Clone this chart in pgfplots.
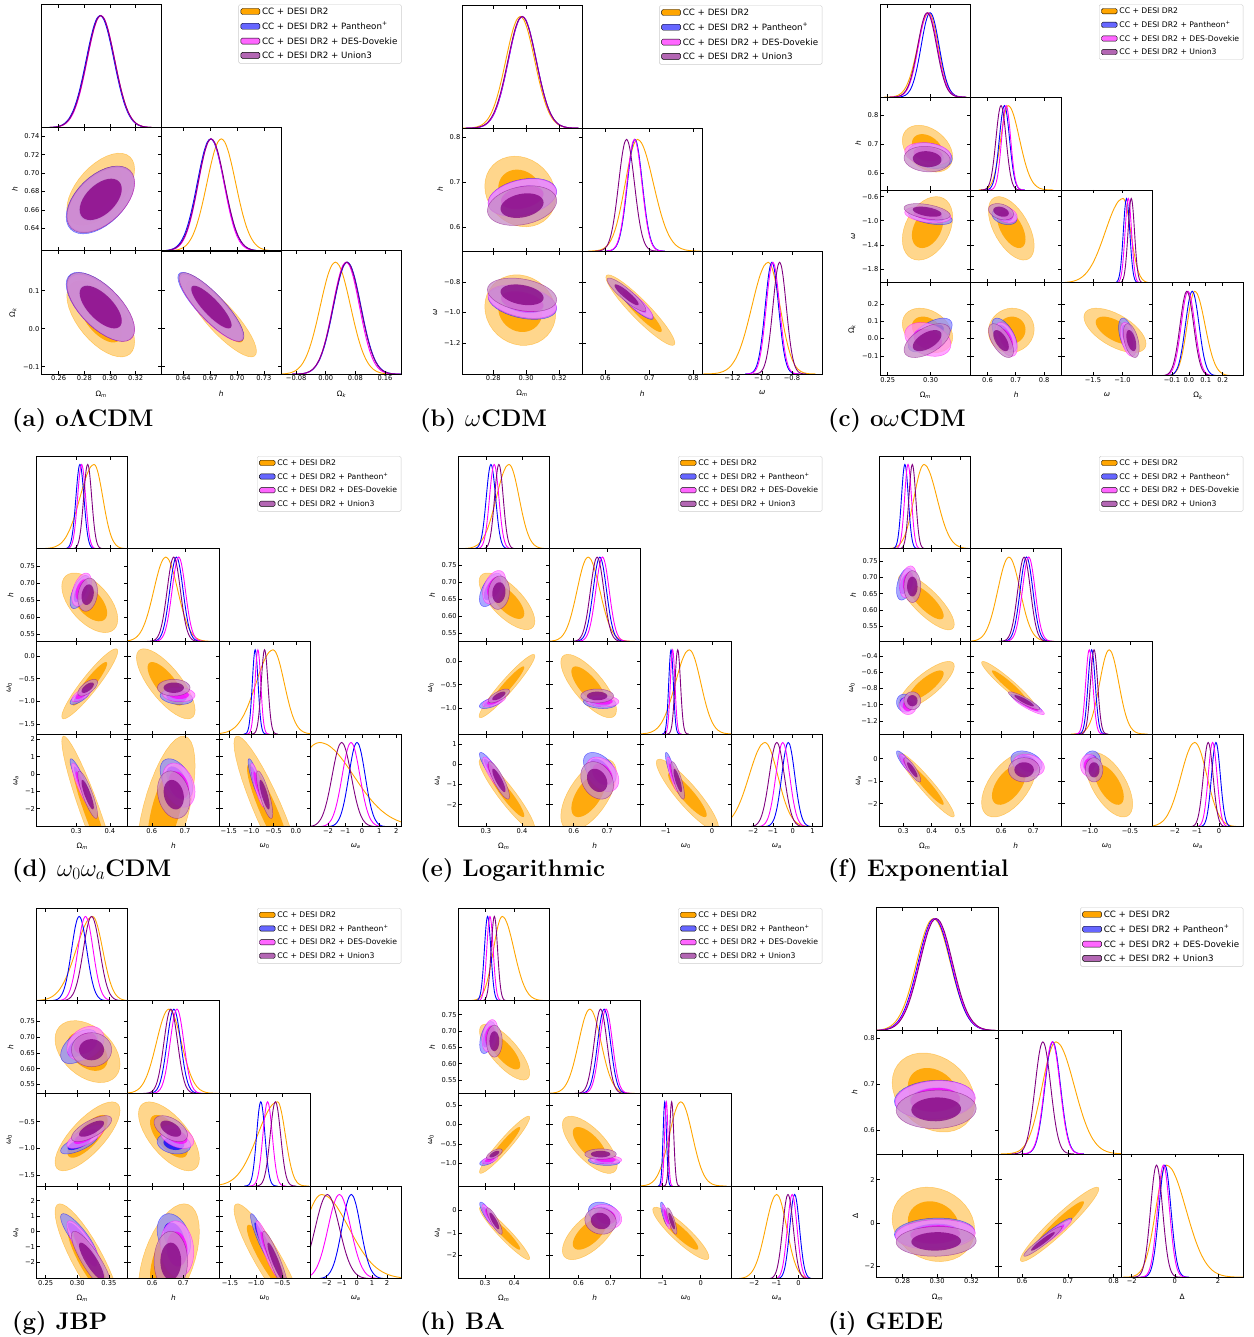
\documentclass[border=0pt]{standalone}
\usepackage{fontspec}
\usepackage{pgfplots}
\pgfplotsset{compat=1.18}
\usepackage{pgfplotstable}
\usepackage{etoolbox}
\newfontfamily\dv{DejaVu Sans}
\definecolor{cO}{RGB}{255,165,0}
\definecolor{cB}{RGB}{0,0,255}
\definecolor{cM}{RGB}{255,0,255}
\definecolor{cP}{RGB}{128,0,128}

% normalised shape of a posterior peak (split at its maximum)
\pgfplotstableread{
zn zp g
-4.00 0 0.00034
-3.75 0 0.00088
-3.50 0 0.00219
-3.25 0 0.00509
-3.00 0 0.01111
-2.75 0 0.02279
-2.50 0 0.04394
-2.25 0 0.07956
-2.00 0 0.13534
-1.75 0 0.21627
-1.50 0 0.32465
-1.25 0 0.45783
-1.00 0 0.60653
-0.75 0 0.75484
-0.50 0 0.88250
-0.25 0 0.96923
0 0 1
0 0.25 0.96923
0 0.50 0.88250
0 0.75 0.75484
0 1.00 0.60653
0 1.25 0.45783
0 1.50 0.32465
0 1.75 0.21627
0 2.00 0.13534
0 2.25 0.07956
0 2.50 0.04394
0 2.75 0.02279
0 3.00 0.01111
0 3.25 0.00509
0 3.50 0.00219
0 3.75 0.00088
0 4.00 0.00034
}\gtab
% unit contour
\pgfplotstableread{
c s
1 0
0.98481 0.17365
0.93969 0.34202
0.86603 0.5
0.76604 0.64279
0.64279 0.76604
0.5 0.86603
0.34202 0.93969
0.17365 0.98481
0 1
-0.17365 0.98481
-0.34202 0.93969
-0.5 0.86603
-0.64279 0.76604
-0.76604 0.64279
-0.86603 0.5
-0.93969 0.34202
-0.98481 0.17365
-1 0
-0.98481 -0.17365
-0.93969 -0.34202
-0.86603 -0.5
-0.76604 -0.64279
-0.64279 -0.76604
-0.5 -0.86603
-0.34202 -0.93969
-0.17365 -0.98481
0 -1
0.17365 -0.98481
0.34202 -0.93969
0.5 -0.86603
0.64279 -0.76604
0.76604 -0.64279
0.86603 -0.5
0.93969 -0.34202
0.98481 -0.17365
1 0
}\ctab

\pgfplotsset{
  cp/.style={scale only axis, anchor=north west,
    axis line style={line width=0.8pt, black},
    tick align=inside, major tick length=3.5pt,
    tick style={black, line width=0.6pt},
    ticklabel style={font=\dv\fontsize{6.7}{7}\selectfont},
    label style={font=\dv\fontsize{7.4}{8}\selectfont},
    xticklabel style={inner sep=1.5pt},
    yticklabel style={inner sep=1.5pt},
    xlabel style={inner sep=1pt, yshift=-7pt},
    ylabel style={inner sep=1pt, yshift=4pt},
    axis on top},
  lg3/.style={legend cell align=left,
    legend style={font=\dv\fontsize{8.7}{10}\selectfont, draw=black!20, rounded corners=1.5pt, fill=white, inner xsep=2pt, inner ysep=1.5pt, row sep=2.2pt},
    legend image code/.code={\fill[##1] (0pt,-2.5pt) rectangle (19pt,3.5pt);}},
  lg4/.style={legend cell align=left,
    legend style={font=\dv\fontsize{7.7}{9}\selectfont, draw=black!20, rounded corners=1.5pt, fill=white, inner xsep=2pt, inner ysep=1.5pt, row sep=2.2pt},
    legend image code/.code={\fill[##1] (0pt,-2.2pt) rectangle (15.7pt,3.1pt);}},
}

\newcommand\Lom{Ω\textsubscript{\itshape m}}
\newcommand\Lok{Ω\textsubscript{\itshape k}}
\newcommand\Lh{\itshape h}
\newcommand\Lw{\itshape ω}
\newcommand\Lwo{{\itshape ω}\textsubscript{0}}
\newcommand\Lwa{{\itshape ω}\textsubscript{\itshape a}}
\newcommand\LD{Δ}

% storage
\newcommand\geom[7]{\csdef{#1@n}{#2}\csdef{#1@x0}{#3}\csdef{#1@y0}{#4}\csdef{#1@w}{#5}\csdef{#1@h}{#6}\csdef{#1@lg}{#7}}
\newcommand\prm[9]{\csdef{#1@min@#2}{#3}\csdef{#1@max@#2}{#4}\csdef{#1@xt@#2}{#5}\csdef{#1@xl@#2}{#6}\csdef{#1@yt@#2}{#7}\csdef{#1@yl@#2}{#8}\csdef{#1@lb@#2}{#9}}
\newcommand\dat[3]{\foreach \Zm/\Zl/\Zrr [count=\ZD] in {#3}{\csxdef{#1@m@\ZD @#2}{\Zm}\csxdef{#1@l@\ZD @#2}{\Zl}\csxdef{#1@r@\ZD @#2}{\Zrr}}}
\newcommand\cor[7]{\csdef{#1@c@#2@#3@1}{#4}\csdef{#1@c@#2@#3@2}{#5}\csdef{#1@c@#2@#3@3}{#6}\csdef{#1@c@#2@#3@4}{#7}}

% 1D posterior: S, param, dataset, colour
\newcommand\oned[4]{%
 \edef\Za{\csuse{#1@m@#3@#2}}\edef\Zb{\csuse{#1@l@#3@#2}}\edef\Zc{\csuse{#1@r@#3@#2}}%
 \edef\Zcmd{\noexpand\addplot[forget plot, smooth, #4, line width=0.9pt] table[x expr=\Za+\Zb*\noexpand\thisrow{zn}+\Zc*\noexpand\thisrow{zp}, y=g]{\noexpand\gtab};}%
 \Zcmd}
% 2D contours: S, row param, col param, dataset, colour
\newcommand\twod[5]{%
 \pgfmathsetmacro\Zmx{\csuse{#1@m@#4@#3}+0.8*(\csuse{#1@r@#4@#3}-\csuse{#1@l@#4@#3})}%
 \pgfmathsetmacro\Zsx{(\csuse{#1@r@#4@#3}+\csuse{#1@l@#4@#3})/2}%
 \pgfmathsetmacro\Zmy{\csuse{#1@m@#4@#2}+0.8*(\csuse{#1@r@#4@#2}-\csuse{#1@l@#4@#2})}%
 \pgfmathsetmacro\Zsy{(\csuse{#1@r@#4@#2}+\csuse{#1@l@#4@#2})/2}%
 \edef\Zr{\csuse{#1@c@#2@#3@#4}}%
 \pgfmathsetmacro\Zq{sqrt(1-(\Zr)*(\Zr))}%
 \pgfmathsetmacro\ZAx{2.45*\Zsx}\pgfmathsetmacro\ZAy{2.45*\Zsy}%
 \pgfmathsetmacro\ZBx{1.52*\Zsx}\pgfmathsetmacro\ZBy{1.52*\Zsy}%
 \ifnum#4=1 \def\Zlt{50}\def\Zfo{0.9}\def\Zfi{0.9}\else\def\Zlt{45}\def\Zfo{0.75}\def\Zfi{0.75}\fi
 \edef\Zcmd{%
  \noexpand\addplot[forget plot, fill=#5!\Zlt!white, fill opacity=\Zfo, draw=#5, draw opacity=0.5, line width=0.5pt] table[x expr=\Zmx+\ZAx*\noexpand\thisrow{c}, y expr=\Zmy+\ZAy*((\Zr)*\noexpand\thisrow{c}+\Zq*\noexpand\thisrow{s})]{\noexpand\ctab};
  \noexpand\addplot[forget plot, fill=#5, fill opacity=\Zfi, draw=none] table[x expr=\Zmx+\ZBx*\noexpand\thisrow{c}, y expr=\Zmy+\ZBy*((\Zr)*\noexpand\thisrow{c}+\Zq*\noexpand\thisrow{s})]{\noexpand\ctab};}%
 \Zcmd}

% one panel: S, row, col
\newcommand\pnl[3]{%
 \pgfmathsetmacro\Zpx{\csuse{#1@x0}+(#3-1)*\csuse{#1@w}}%
 \pgfmathsetmacro\Zpy{-(\csuse{#1@y0}+(#2-1)*\csuse{#1@h})}%
 \edef\Zbegin{\noexpand\begin{axis}[cp,
   width=\csuse{#1@w}pt,height=\csuse{#1@h}pt,at={(\Zpx pt,\Zpy pt)},
   xmin=\csuse{#1@min@#3},xmax=\csuse{#1@max@#3},xtick={\csuse{#1@xt@#3}},
   \ifnum#2=\csuse{#1@n} xticklabels={\csuse{#1@xl@#3}},xlabel={\noexpand\csuse{#1@lb@#3}},\else xticklabels={},\fi
   \ifnum#2=#3 ymin=0,ymax=1.1,ytick=\noexpand\empty,\else ymin=\csuse{#1@min@#2},ymax=\csuse{#1@max@#2},ytick={\csuse{#1@yt@#2}},\ifnum#3=1 yticklabels={\csuse{#1@yl@#2}},ylabel={\noexpand\csuse{#1@lb@#2}},\else yticklabels={},\fi\fi
   \ifnum#2=1 \csuse{#1@lg},legend style={at={(\csuse{#1@n},1)},anchor=north east},\fi
   ]}%
 \Zbegin
 \ifnum#2=#3\relax
   \oned{#1}{#2}{1}{cO}\oned{#1}{#2}{2}{cB}\oned{#1}{#2}{3}{cM}\oned{#1}{#2}{4}{cP}%
 \else
   \twod{#1}{#2}{#3}{1}{cO}\twod{#1}{#2}{#3}{2}{cB}\twod{#1}{#2}{#3}{3}{cM}\twod{#1}{#2}{#3}{4}{cP}%
 \fi
 \ifnum#2=1\relax
   \addlegendimage{fill=cO}\addlegendentry{CC + DESI DR2}
   \addlegendimage{fill=cB!60!white}\addlegendentry{CC + DESI DR2 + Pantheon\textsuperscript{+}}
   \addlegendimage{fill=cM!60!white}\addlegendentry{CC + DESI DR2 + DES-Dovekie}
   \addlegendimage{fill=cP!60!white}\addlegendentry{CC + DESI DR2 + Union3}
 \fi
 \end{axis}%
}
\newcommand\cornerIII[1]{\pnl{#1}{1}{1}\pnl{#1}{2}{1}\pnl{#1}{2}{2}\pnl{#1}{3}{1}\pnl{#1}{3}{2}\pnl{#1}{3}{3}}
\newcommand\cornerIV[1]{\pnl{#1}{1}{1}\pnl{#1}{2}{1}\pnl{#1}{2}{2}\pnl{#1}{3}{1}\pnl{#1}{3}{2}\pnl{#1}{3}{3}\pnl{#1}{4}{1}\pnl{#1}{4}{2}\pnl{#1}{4}{3}\pnl{#1}{4}{4}}

% ---------------- (a) oLCDM
\geom{a}{3}{41}{4.3}{120.2}{123.3}{lg3}
\prm{a}{1}{0.2462}{0.340}{0.26,0.28,0.30,0.32}{0.26,0.28,0.30,0.32}{0.3}{0.3}{\Lom}
\prm{a}{2}{0.6155}{0.7495}{0.64,0.67,0.70,0.73}{0.64,0.67,0.70,0.73}{0.64,0.66,0.68,0.70,0.72,0.74}{0.64,0.66,0.68,0.70,0.72,0.74}{\Lh}
\prm{a}{3}{-0.12}{0.205}{-0.08,0,0.08,0.16}{−0.08,0.00,0.08,0.16}{-0.1,0,0.1}{−0.1,0.0,0.1}{\Lok}
\dat{a}{1}{0.2928/0.0108/0.0108, 0.2923/0.0108/0.0108, 0.2930/0.0107/0.0107, 0.2928/0.0108/0.0108}
\dat{a}{2}{0.6825/0.016/0.016, 0.6705/0.0148/0.0152, 0.6712/0.0143/0.0143, 0.6712/0.0146/0.015}
\dat{a}{3}{0.026/0.041/0.041, 0.058/0.037/0.037, 0.055/0.036/0.036, 0.057/0.037/0.037}
\cor{a}{2}{1}{0.55}{0.5}{0.5}{0.5}
\cor{a}{3}{1}{-0.6}{-0.65}{-0.65}{-0.65}
\cor{a}{3}{2}{-0.85}{-0.85}{-0.85}{-0.85}
% ---------------- (b) wCDM
\geom{b}{3}{462}{5.3}{120.1}{122.9}{lg3}
\prm{b}{1}{0.261}{0.334}{0.28,0.30,0.32}{0.28,0.30,0.32}{0.3}{0.3}{\Lom}
\prm{b}{2}{0.547}{0.82}{0.6,0.7,0.8}{0.6,0.7,0.8}{0.6,0.7,0.8}{0.6,0.7,0.8}{\Lh}
\prm{b}{3}{-1.405}{-0.595}{-1.2,-1.0,-0.8}{−1.2,−1.0,−0.8}{-1.2,-1.0,-0.8}{−1.2,−1.0,−0.8}{\Lw}
\dat{b}{1}{0.2964/0.0088/0.0088, 0.2977/0.0085/0.0085, 0.2976/0.0085/0.0085, 0.2975/0.0086/0.0086}
\dat{b}{2}{0.673/0.028/0.036, 0.667/0.017/0.017, 0.666/0.017/0.017, 0.648/0.018/0.018}
\dat{b}{3}{-0.96/0.11/0.08, -0.935/0.045/0.045, -0.928/0.045/0.045, -0.883/0.045/0.045}
\cor{b}{2}{1}{-0.15}{0.3}{0.3}{0.25}
\cor{b}{3}{1}{-0.1}{-0.35}{-0.35}{-0.3}
\cor{b}{3}{2}{-0.93}{-0.9}{-0.9}{-0.9}
% ---------------- (c) owCDM
\geom{c}{4}{880}{4.3}{90.83}{92.85}{lg4}
\prm{c}{1}{0.241}{0.347}{0.25,0.30}{0.25,0.30}{0.3}{0.3}{\Lom}
\prm{c}{2}{0.5414}{0.862}{0.6,0.7,0.8}{0.6,0.7,0.8}{0.6,0.7,0.8}{0.6,0.7,0.8}{\Lh}
\prm{c}{3}{-2.03}{-0.49}{-1.5,-1.0}{−1.5,−1.0}{-1.8,-1.4,-1.0,-0.6}{−1.8,−1.4,−1.0,−0.6}{\Lw}
\prm{c}{4}{-0.215}{0.322}{-0.1,0,0.1,0.2}{−0.1,0.0,0.1,0.2}{-0.1,0,0.1,0.2}{−0.1,0.0,0.1,0.2}{\Lok}
\dat{c}{1}{0.298/0.013/0.011, 0.2995/0.0105/0.0105, 0.2968/0.011/0.011, 0.296/0.011/0.011}
\dat{c}{2}{0.673/0.026/0.04, 0.66/0.018/0.018, 0.666/0.016/0.016, 0.648/0.018/0.018}
\dat{c}{3}{-0.99/0.30/0.13, -0.93/0.055/0.055, -0.90/0.055/0.055, -0.85/0.055/0.055}
\dat{c}{4}{0.035/0.045/0.06, 0.02/0.04/0.04, -0.005/0.04/0.04, -0.012/0.04/0.04}
\cor{c}{2}{1}{-0.35}{-0.25}{-0.2}{-0.1}
\cor{c}{3}{1}{0.35}{-0.45}{-0.3}{-0.45}
\cor{c}{3}{2}{-0.55}{-0.3}{-0.3}{-0.3}
\cor{c}{4}{1}{-0.3}{0.6}{-0.3}{0.55}
\cor{c}{4}{2}{0.05}{-0.6}{-0.5}{-0.6}
\cor{c}{4}{3}{-0.6}{-0.45}{-0.45}{-0.45}
% ---------------- (d) w0waCDM
\geom{d}{4}{36.7}{456}{91.15}{92.68}{lg4}
\prm{d}{1}{0.1825}{0.4534}{0.3,0.4}{0.3,0.4}{0.3}{0.3}{\Lom}
\prm{d}{2}{0.528}{0.802}{0.6,0.7}{0.6,0.7}{0.55,0.60,0.65,0.70,0.75}{0.55,0.60,0.65,0.70,0.75}{\Lh}
\prm{d}{3}{-1.72}{0.32}{-1.5,-1.0,-0.5,0.0}{−1.5,−1.0,−0.5,0.0}{-1.5,-1.0,-0.5,0.0}{−1.5,−1.0,−0.5,0.0}{\Lwo}
\prm{d}{4}{-3.05}{2.3}{-2,-1,0,1,2}{−2,−1,0,1,2}{-2,-1,0,1,2}{−2,−1,0,1,2}{\Lwa}
\dat{d}{1}{0.353/0.042/0.026, 0.311/0.012/0.012, 0.316/0.012/0.012, 0.334/0.012/0.012}
\dat{d}{2}{0.642/0.036/0.036, 0.674/0.02/0.02, 0.681/0.02/0.02, 0.666/0.02/0.02}
\dat{d}{3}{-0.51/0.38/0.25, -0.91/0.065/0.065, -0.85/0.065/0.065, -0.70/0.075/0.075}
\dat{d}{4}{-2.5/1.5/2.0, -0.3/0.48/0.48, -0.65/0.52/0.52, -1.2/0.56/0.56}
\cor{d}{2}{1}{-0.55}{0.6}{0.45}{0.2}
\cor{d}{3}{1}{0.93}{0.75}{0.7}{0.65}
\cor{d}{3}{2}{-0.75}{-0.25}{-0.1}{0.0}
\cor{d}{4}{1}{-0.93}{-0.9}{-0.88}{-0.85}
\cor{d}{4}{2}{0.6}{-0.45}{-0.3}{-0.2}
\cor{d}{4}{3}{-0.9}{-0.85}{-0.85}{-0.8}
% ---------------- (e) Logarithmic
\geom{e}{4}{458.3}{456}{91.0}{92.68}{lg4}
\prm{e}{1}{0.2237}{0.4755}{0.3,0.4}{0.3,0.4}{0.3}{0.3}{\Lom}
\prm{e}{2}{0.527}{0.799}{0.6,0.7}{0.6,0.7}{0.55,0.60,0.65,0.70,0.75}{0.55,0.60,0.65,0.70,0.75}{\Lh}
\prm{e}{3}{-1.55}{0.42}{-1,0}{−1,0}{-1.0,-0.5,0.0}{−1.0,−0.5,0.0}{\Lwo}
\prm{e}{4}{-3.1}{1.5}{-2,-1,0,1}{−2,−1,0,1}{-2,-1,0,1}{−2,−1,0,1}{\Lwa}
\dat{e}{1}{0.364/0.035/0.028, 0.314/0.013/0.013, 0.323/0.013/0.013, 0.336/0.012/0.012}
\dat{e}{2}{0.643/0.033/0.035, 0.678/0.02/0.02, 0.686/0.02/0.02, 0.670/0.02/0.02}
\dat{e}{3}{-0.49/0.3/0.25, -0.885/0.05/0.05, -0.85/0.05/0.05, -0.74/0.06/0.06}
\dat{e}{4}{-1.4/0.8/0.65, -0.22/0.33/0.33, -0.5/0.35/0.35, -0.8/0.38/0.38}
\cor{e}{2}{1}{-0.7}{0.55}{0.4}{0.1}
\cor{e}{3}{1}{0.95}{0.6}{0.65}{0.7}
\cor{e}{3}{2}{-0.75}{-0.2}{-0.1}{0.0}
\cor{e}{4}{1}{-0.93}{-0.88}{-0.85}{-0.85}
\cor{e}{4}{2}{0.6}{-0.45}{-0.35}{-0.25}
\cor{e}{4}{3}{-0.9}{-0.85}{-0.85}{-0.8}
% ---------------- (f) Exponential
\geom{f}{4}{879.3}{456}{91.0}{92.68}{lg4}
\prm{f}{1}{0.2164}{0.535}{0.3,0.4,0.5}{0.3,0.4,0.5}{0.3}{0.3}{\Lom}
\prm{f}{2}{0.503}{0.788}{0.6,0.7}{0.6,0.7}{0.55,0.60,0.65,0.70,0.75}{0.55,0.60,0.65,0.70,0.75}{\Lh}
\prm{f}{3}{-1.36}{-0.22}{-1.0,-0.5}{−1.0,−0.5}{-1.2,-1.0,-0.8,-0.6,-0.4}{−1.2,−1.0,−0.8,−0.6,−0.4}{\Lwo}
\prm{f}{4}{-3.02}{1.1}{-2,-1,0}{−2,−1,0}{-2,-1,0}{−2,−1,0}{\Lwa}
\dat{f}{1}{0.373/0.035/0.045, 0.306/0.012/0.012, 0.317/0.012/0.012, 0.332/0.012/0.012}
\dat{f}{2}{0.624/0.035/0.035, 0.679/0.02/0.02, 0.686/0.02/0.02, 0.6715/0.02/0.02}
\dat{f}{3}{-0.76/0.12/0.12, -0.98/0.045/0.045, -1.01/0.045/0.045, -0.95/0.045/0.045}
\dat{f}{4}{-1.1/0.62/0.55, -0.14/0.2/0.2, -0.29/0.2/0.2, -0.49/0.22/0.22}
\cor{f}{2}{1}{-0.8}{0.4}{0.3}{0.0}
\cor{f}{3}{1}{0.8}{-0.1}{0.0}{0.0}
\cor{f}{3}{2}{-0.95}{-0.9}{-0.9}{-0.9}
\cor{f}{4}{1}{-0.95}{-0.85}{-0.85}{-0.85}
\cor{f}{4}{2}{0.55}{-0.3}{-0.2}{0.0}
\cor{f}{4}{3}{-0.6}{0.1}{0.0}{0.0}
% ---------------- (g) JBP
\geom{g}{4}{36.7}{908}{91.15}{92.68}{lg4}
\prm{g}{1}{0.2358}{0.38}{0.25,0.30,0.35}{0.25,0.30,0.35}{0.3}{0.3}{\Lom}
\prm{g}{2}{0.522}{0.815}{0.6,0.7}{0.6,0.7}{0.55,0.60,0.65,0.70,0.75}{0.55,0.60,0.65,0.70,0.75}{\Lh}
\prm{g}{3}{-1.71}{0.035}{-1.5,-1.0,-0.5}{−1.5,−1.0,−0.5}{-1.5,-1.0,-0.5}{−1.5,−1.0,−0.5}{\Lwo}
\prm{g}{4}{-3.1}{2.95}{-2,-1,0,1,2}{−2,−1,0,1,2}{-2,-1,0,1,2}{−2,−1,0,1,2}{\Lwa}
\dat{g}{1}{0.3242/0.026/0.016, 0.303/0.012/0.012, 0.313/0.012/0.012, 0.3226/0.013/0.013}
\dat{g}{2}{0.654/0.04/0.04, 0.67/0.022/0.022, 0.68/0.022/0.022, 0.66/0.022/0.022}
\dat{g}{3}{-0.59/0.38/0.15, -0.91/0.08/0.08, -0.78/0.09/0.09, -0.63/0.1/0.1}
\dat{g}{4}{-2.34/1.15/1.8, -0.37/0.62/0.62, -1.16/0.75/0.75, -1.96/0.8/0.8}
\cor{g}{2}{1}{-0.4}{0.5}{0.3}{0.0}
\cor{g}{3}{1}{0.75}{0.7}{0.7}{0.7}
\cor{g}{3}{2}{-0.65}{-0.2}{-0.4}{-0.5}
\cor{g}{4}{1}{-0.85}{-0.85}{-0.85}{-0.85}
\cor{g}{4}{2}{0.5}{-0.3}{-0.1}{0.0}
\cor{g}{4}{3}{-0.9}{-0.9}{-0.9}{-0.9}
% ---------------- (h) BA
\geom{h}{4}{458.3}{908}{91.0}{92.68}{lg4}
\prm{h}{1}{0.209}{0.5195}{0.3,0.4}{0.3,0.4}{0.3}{0.3}{\Lom}
\prm{h}{2}{0.509}{0.793}{0.6,0.7}{0.6,0.7}{0.55,0.60,0.65,0.70,0.75}{0.55,0.60,0.65,0.70,0.75}{\Lh}
\prm{h}{3}{-1.58}{0.8}{-1,0}{−1,0}{-1.0,-0.5,0.0,0.5}{−1.0,−0.5,0.0,0.5}{\Lwo}
\prm{h}{4}{-3.03}{1.08}{-2,-1,0}{−2,−1,0}{-2,-1,0}{−2,−1,0}{\Lwa}
\dat{h}{1}{0.359/0.03/0.04, 0.309/0.011/0.011, 0.317/0.011/0.011, 0.332/0.011/0.011}
\dat{h}{2}{0.6355/0.035/0.035, 0.68/0.02/0.02, 0.686/0.02/0.02, 0.669/0.02/0.02}
\dat{h}{3}{-0.52/0.3/0.3, -0.94/0.045/0.045, -0.90/0.045/0.045, -0.76/0.055/0.055}
\dat{h}{4}{-0.98/0.5/0.45, -0.17/0.22/0.22, -0.28/0.22/0.22, -0.47/0.24/0.24}
\cor{h}{2}{1}{-0.75}{0.45}{0.3}{0.0}
\cor{h}{3}{1}{0.95}{0.6}{0.6}{0.65}
\cor{h}{3}{2}{-0.7}{-0.2}{-0.1}{0.0}
\cor{h}{4}{1}{-0.95}{-0.85}{-0.85}{-0.85}
\cor{h}{4}{2}{0.65}{-0.3}{-0.2}{-0.1}
\cor{h}{4}{3}{-0.9}{-0.8}{-0.8}{-0.8}
% ---------------- (i) GEDE
\geom{i}{3}{876.3}{907.3}{122.35}{123.3}{lg3}
\prm{i}{1}{0.2647}{0.3358}{0.28,0.30,0.32}{0.28,0.30,0.32}{0.3}{0.3}{\Lom}
\prm{i}{2}{0.549}{0.816}{0.6,0.7,0.8}{0.6,0.7,0.8}{0.6,0.7,0.8}{0.6,0.7,0.8}{\Lh}
\prm{i}{3}{-2.5}{3.18}{-2,0,2}{−2,0,2}{-2,0,2}{−2,0,2}{\LD}
\dat{i}{1}{0.2979/0.0098/0.0098, 0.2985/0.0095/0.0095, 0.299/0.0095/0.0095, 0.2995/0.0095/0.0095}
\dat{i}{2}{0.674/0.03/0.04, 0.667/0.017/0.017, 0.666/0.017/0.017, 0.6455/0.017/0.017}
\dat{i}{3}{-0.385/0.5/0.9, -0.46/0.28/0.28, -0.53/0.28/0.28, -0.85/0.28/0.28}
\cor{i}{2}{1}{-0.25}{0.1}{0.1}{0.05}
\cor{i}{3}{1}{-0.15}{0.1}{0.1}{0.05}
\cor{i}{3}{2}{0.95}{0.95}{0.95}{0.95}

\begin{document}
\begin{tikzpicture}
\useasboundingbox (0,0) rectangle (1253pt,-1337pt);
\cornerIII{a}\cornerIII{b}\cornerIV{c}
\cornerIV{d}\cornerIV{e}\cornerIV{f}
\cornerIV{g}\cornerIV{h}\cornerIII{i}
\begin{scope}[every node/.style={anchor=base west, inner sep=0pt, font=\fontsize{24}{28}\selectfont\bfseries}]
\node at (12pt,-426pt) {(a) oΛCDM};
\node at (420pt,-426pt) {(b) $\omega$CDM};
\node at (828pt,-426pt) {(c) o$\omega$CDM};
\node at (12pt,-876pt) {(d) $\omega_0\omega_a$CDM};
\node at (420pt,-876pt) {(e) Logarithmic};
\node at (828pt,-876pt) {(f) Exponential};
\node at (12pt,-1329pt) {(g) JBP};
\node at (420pt,-1329pt) {(h) BA};
\node at (828pt,-1329pt) {(i) GEDE};
\end{scope}
\end{tikzpicture}
\end{document}
